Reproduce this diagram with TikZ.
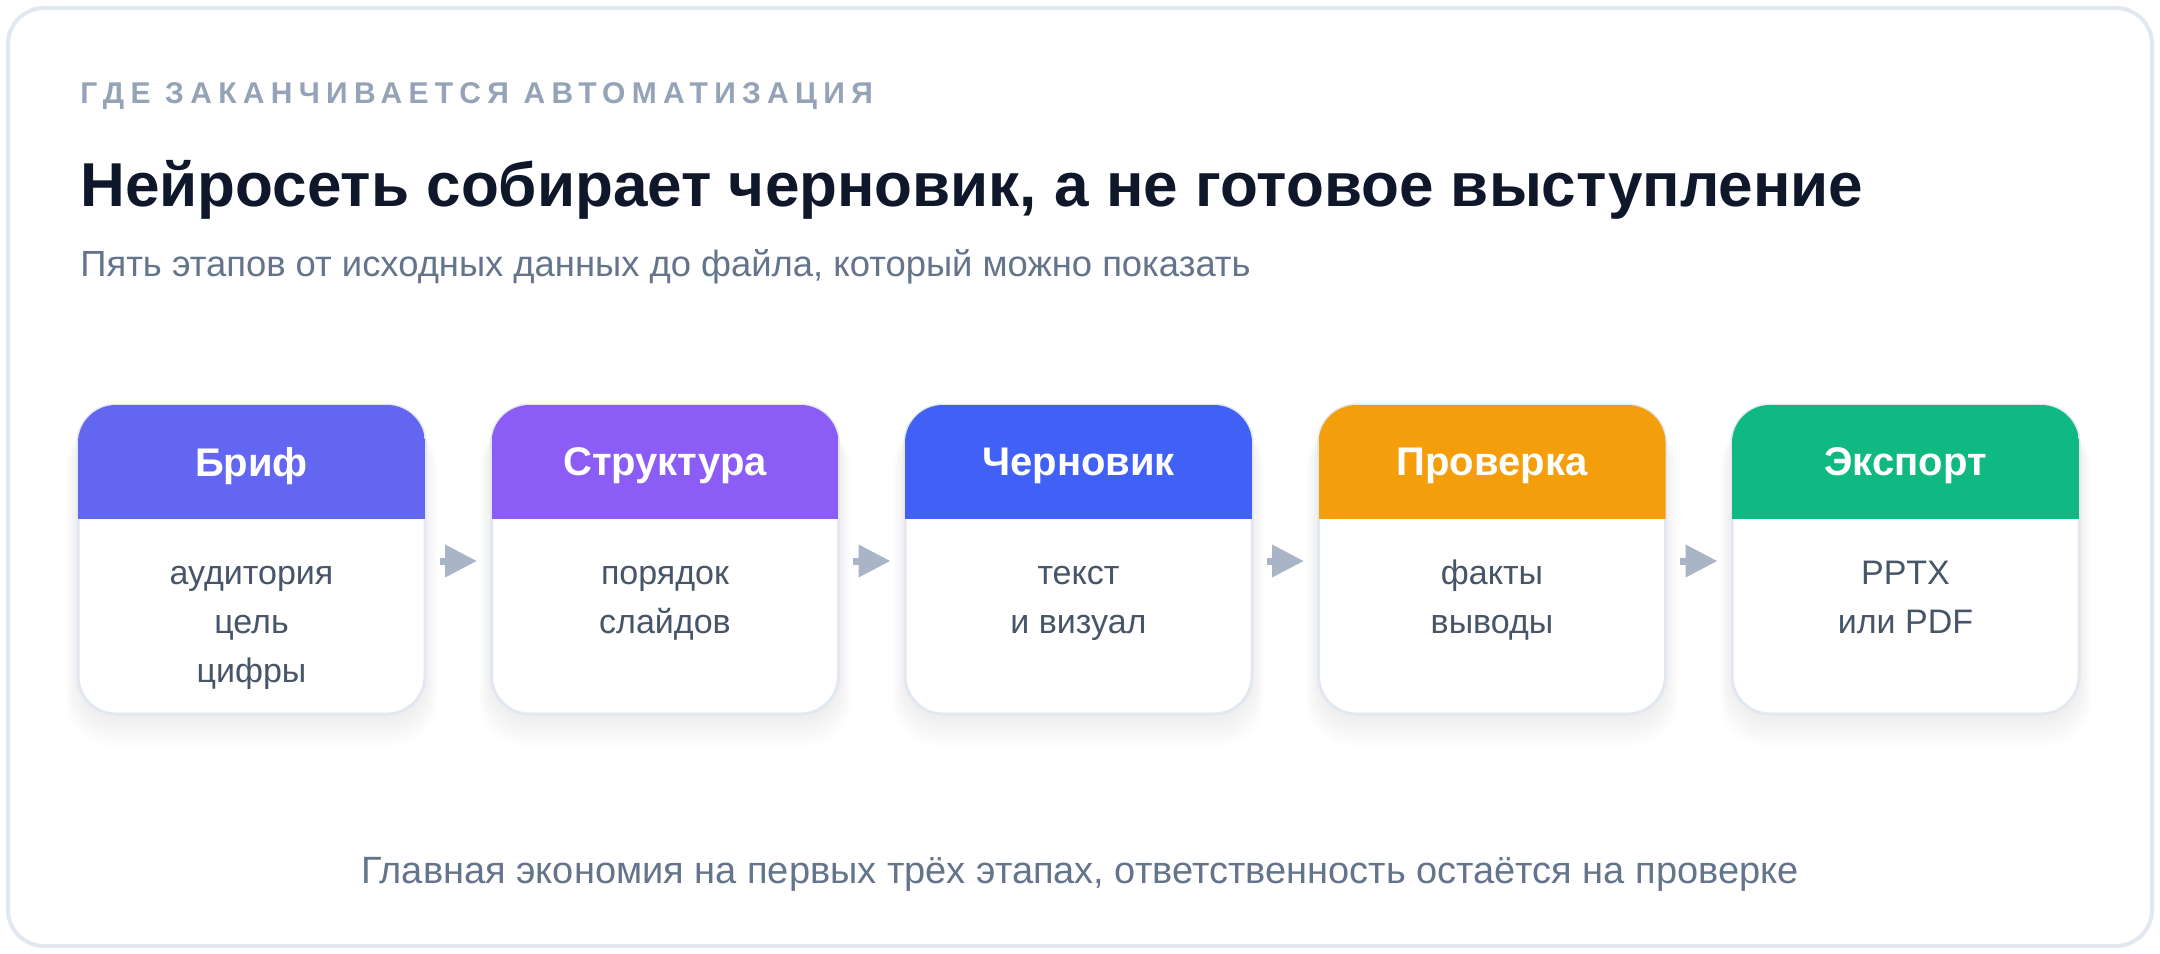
\documentclass[tikz,border=0pt]{standalone}
\usepackage{fontspec}
\setmainfont{Liberation Sans}
\newfontfamily\kickfont[LetterSpace=21]{Liberation Sans}
\usetikzlibrary{arrows.meta}
\definecolor{framec}{HTML}{E2E8F0}
\definecolor{kickc}{HTML}{94A3B8}
\definecolor{titlec}{HTML}{0F172A}
\definecolor{subc}{HTML}{64748B}
\definecolor{bodyc}{HTML}{475569}
\definecolor{arrowc}{HTML}{A9B4C6}
\definecolor{cA}{HTML}{6366F1}
\definecolor{cB}{HTML}{8B5CF6}
\definecolor{cC}{HTML}{4160F6}
\definecolor{cD}{HTML}{F59E0B}
\definecolor{cE}{HTML}{10B981}
\tikzset{
  cardbox/.style={draw=framec, line width=1.5pt, fill=white, rounded corners=19pt,
    minimum width=173.5pt, minimum height=154.5pt, inner sep=0pt},
  headtext/.style={text=white, font=\bfseries\fontsize{20}{23}\selectfont, inner sep=0pt},
  bodytext/.style={text=bodyc, font=\fontsize{17}{20}\selectfont, inner sep=0pt, anchor=base},
  flow/.style={draw=arrowc, line width=3.5pt, -{Triangle[length=16pt,width=15.5pt]}},
}
\begin{document}
\begin{tikzpicture}[x=0.5pt,y=-0.5pt]
\useasboundingbox (0,0) rectangle (2160,954);
\fill[white] (0,0) rectangle (2160,954);
\draw[framec, line width=2pt, fill=white, rounded corners=18pt] (8,8) rectangle (2152,946);

\node[anchor=base west, inner sep=0pt, text=kickc, font=\kickfont\bfseries\fontsize{15}{17}\selectfont] (kicker) at (80,103) {ГДЕ ЗАКАНЧИВАЕТСЯ АВТОМАТИЗАЦИЯ};
\node[anchor=base west, inner sep=0pt, text=titlec, font=\bfseries\fontsize{31}{36}\selectfont] (title) at (80,206) {Нейросеть собирает черновик, а не готовое выступление};
\node[anchor=base west, inner sep=0pt, text=subc, font=\fontsize{18.2}{21}\selectfont] (subtitle) at (80,276) {Пять этапов от исходных данных до файла, который можно показать};

\foreach \i/\col/\name in {1/cA/Бриф, 2/cB/Структура, 3/cC/Черновик, 4/cD/Проверка, 5/cE/Экспорт}{
  \pgfmathsetmacro\xa{78+413.5*(\i-1)}
  \pgfmathsetmacro\xb{\xa+347}
  \pgfmathsetmacro\xc{\xa+173.5}
  \foreach \k in {1,...,8}{
    \fill[black, opacity=0.009, rounded corners=22pt] (\xa-1.5*\k,416+\k) rectangle (\xb+1.5*\k,718+3.5*\k);
  }
  \node[cardbox] (c\i) at (\xc,559.5) {};
  \begin{scope}
    \clip[rounded corners=19pt] (\xa,405) rectangle (\xb,714);
    \fill[\col] (\xa,405) rectangle (\xb,519);
  \end{scope}
  \node[headtext] (h\i) at (\xc,466) {\name};
}

\node[bodytext] (b1a) at (c1.center |- 0,584) {аудитория};
\node[bodytext] (b1b) at (c1.center |- 0,633) {цель};
\node[bodytext] (b1c) at (c1.center |- 0,682) {цифры};
\node[bodytext] (b2a) at (c2.center |- 0,584) {порядок};
\node[bodytext] (b2b) at (c2.center |- 0,633) {слайдов};
\node[bodytext] (b3a) at (c3.center |- 0,584) {текст};
\node[bodytext] (b3b) at (c3.center |- 0,633) {и визуал};
\node[bodytext] (b4a) at (c4.center |- 0,584) {факты};
\node[bodytext] (b4b) at (c4.center |- 0,633) {выводы};
\node[bodytext] (b5a) at (c5.center |- 0,584) {PPTX};
\node[bodytext] (b5b) at (c5.center |- 0,633) {или PDF};

\draw[flow] ([xshift=6.5pt,yshift=-0.75pt]c1.east) -- ([xshift=-6.5pt,yshift=-0.75pt]c2.west);
\draw[flow] ([xshift=6.5pt,yshift=-0.75pt]c2.east) -- ([xshift=-6.5pt,yshift=-0.75pt]c3.west);
\draw[flow] ([xshift=6.5pt,yshift=-0.75pt]c3.east) -- ([xshift=-6.5pt,yshift=-0.75pt]c4.west);
\draw[flow] ([xshift=6.5pt,yshift=-0.75pt]c4.east) -- ([xshift=-6.5pt,yshift=-0.75pt]c5.west);

\node[anchor=base, inner sep=0pt, text=subc, font=\fontsize{19}{22}\selectfont] (foot) at (1080,883) {Главная экономия на первых трёх этапах, ответственность остаётся на проверке};
\end{tikzpicture}
\end{document}
